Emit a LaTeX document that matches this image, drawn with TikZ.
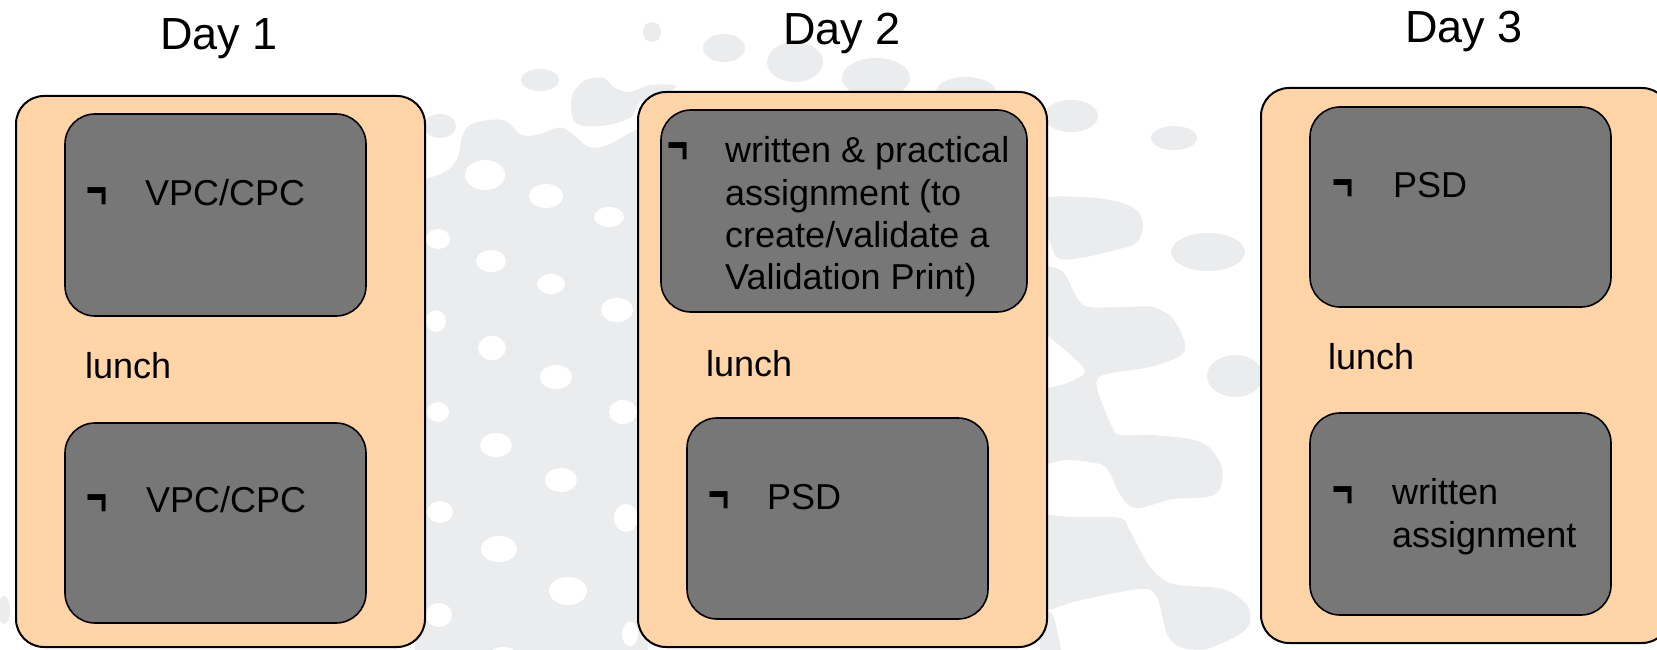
\documentclass[tikz,border=0pt]{standalone}
\usepackage{fontspec}
\setmainfont{Liberation Sans}
\definecolor{peach}{HTML}{FFD5A8}
\definecolor{boxgrey}{HTML}{777777}
\definecolor{bggrey}{HTML}{EBECEE}
\newcommand{\notmark}{\raisebox{-3pt}{\scalebox{1}[1.5]{\textbf{¬}}}}
\begin{document}
\begin{tikzpicture}[x=1pt,y=-1pt,
  outerbox/.style={draw=black, line width=2pt, fill=peach, rounded corners=28pt, inner sep=0pt},
  innerbox/.style={draw=black, line width=1.6pt, fill=boxgrey, rounded corners=30pt, inner sep=0pt},
  body/.style={font=\fontsize{36}{43}\selectfont, anchor=base west, inner sep=0pt, text=black},
  daytitle/.style={font=\fontsize{45}{54}\selectfont, anchor=base, inner sep=0pt, text=black},
  bg/.style={fill=bggrey},
  hole/.style={fill=white}]
\useasboundingbox (0,0) rectangle (1657,650);
\clip (0,0) rectangle (1657,650);
\fill[white] (0,0) rectangle (1657,650);

% ---- background pattern, gap between day 1 and day 2 ----
\fill[bg] plot[smooth, tension=0.6] coordinates {(415,182) (445,172) (458,157) (462,137) (472,124) (503,120) (522,135) (540,134) (563,128) (587,146) (605,146) (630,133) (648,124)} -- (648,655) -- (415,655) -- cycle;
\fill[bg] plot[smooth cycle, tension=0.6] coordinates {(575,122) (572,97) (584,81) (603,78) (615,88) (630,92) (650,85) (676,86) (660,96) (640,102) (630,118) (600,126)};
\fill[bg] (440,126) ellipse [x radius=16pt, y radius=12pt];
\fill[bg] (540,80) ellipse [x radius=19pt, y radius=11pt];
\fill[bg] (652,32) ellipse [x radius=9pt, y radius=10pt];
\fill[bg] (724,48) ellipse [x radius=21pt, y radius=14pt];
\fill[bg] (795,62) ellipse [x radius=28pt, y radius=20pt];
\fill[bg] (876,78) ellipse [x radius=34pt, y radius=20pt];
\fill[bg] (966,92) ellipse [x radius=30pt, y radius=15pt];
\foreach \cx/\cy/\rx/\ry in {485/175/20/15, 546/196/17/12, 609/217/15/10, 438/239/12/10,
  491/261/15/11, 551/284/14/10, 617/310/16/12, 436/321/10/11, 492/348/14/12,
  556/377/16/12, 623/412/14/12, 438/412/11/10, 496/445/16/12, 561/480/16/12,
  440/512/13/11, 626/518/12/14, 499/549/18/13, 568/591/19/14, 439/615/13/12,
  630/634/8/12, 503/655/14/8}
  \fill[hole] (\cx,\cy) ellipse [x radius=\rx pt, y radius=\ry pt];
\fill[bg] (4,610) ellipse [x radius=6pt, y radius=14pt];

% ---- background pattern, gap between day 2 and day 3 ----
\fill[bg] (1071,116) ellipse [x radius=27pt, y radius=16pt];
\fill[bg] (1174,138) ellipse [x radius=23pt, y radius=12pt];
\fill[bg] plot[smooth cycle, tension=0.6] coordinates {(1040,200) (1080,197) (1115,201) (1136,210) (1143,225) (1136,243) (1115,250) (1080,258) (1058,258) (1049,240) (1040,230)};
\fill[bg] (1208,252) ellipse [x radius=37pt, y radius=19pt];
\fill[bg] plot[smooth, tension=0.5] coordinates {(1040,265) (1063,272) (1083,305) (1120,307) (1153,307) (1173,319) (1185,344) (1180,356) (1150,367) (1103,375) (1097,388) (1112,427) (1120,435) (1150,435) (1190,439) (1210,448) (1222,468) (1220,489) (1207,497) (1173,499) (1140,508) (1127,504) (1117,489) (1110,473) (1100,464) (1067,460) (1040,466)} -- (1040,388) -- plot[smooth, tension=0.5] coordinates {(1048,388) (1067,383) (1083,375) (1083,367) (1065,350) (1048,336)} -- (1040,336) -- cycle;
\fill[bg] (1235,376) ellipse [x radius=28pt, y radius=21pt];
\fill[bg] plot[smooth, tension=0.5] coordinates {(1040,514) (1073,517) (1120,518) (1130,531) (1150,567) (1173,584) (1223,589) (1247,605) (1250,622) (1240,634) (1207,649) (1180,647) (1167,634) (1157,597) (1140,589) (1077,601) (1053,609)} -- (1040,610) -- cycle;
\fill[bg] plot[smooth, tension=0.5] coordinates {(1040,612) (1053,615) (1062,655)} -- (1040,655) -- cycle;

% ---- day titles ----
\node[daytitle] (t1) at (219,50) {Day 1};
\node[daytitle] (t2) at (842,45) {Day 2};
\node[daytitle] (t3) at (1464,43) {Day 3};

% ---- day boxes ----
\node[outerbox, minimum width=409pt, minimum height=551pt] (day1) at (220.5,371.5) {};
\node[outerbox, minimum width=409pt, minimum height=555pt] (day2) at (842.5,369.5) {};
\node[outerbox, minimum width=409pt, minimum height=555pt] (day3) at (1465.5,365.5) {};

\node[innerbox, minimum width=301pt, minimum height=202pt] (d1a) at (215.5,215) {};
\node[innerbox, minimum width=301pt, minimum height=200pt] (d1b) at (215.5,523) {};
\node[innerbox, minimum width=366pt, minimum height=202pt] (d2a) at (844,211) {};
\node[innerbox, minimum width=301pt, minimum height=201pt] (d2b) at (837.5,518.5) {};
\node[innerbox, minimum width=301pt, minimum height=200pt] (d3a) at (1460.5,207) {};
\node[innerbox, minimum width=301pt, minimum height=202pt] (d3b) at (1460.5,514) {};

% ---- texts, day 1 ----
\node[body] (d1am) at (86,205) {\notmark};
\node[body] (d1at) at (145,205) {VPC/CPC};
\node[body] (l1) at (85,378) {lunch};
\node[body] (d1bm) at (86,512) {\notmark};
\node[body] (d1bt) at (146,512) {VPC/CPC};

% ---- texts, day 2 ----
\node[body] (d2am) at (667,160) {\notmark};
\node[body] (d2a1) at (725,163) {written \& practical};
\node[body] (d2a2) at (725,205) {assignment (to};
\node[body] (d2a3) at (725,247) {create/validate a};
\node[body] (d2a4) at (725,289) {Validation Print)};
\node[body] (l2) at (706,376) {lunch};
\node[body] (d2bm) at (708,509) {\notmark};
\node[body] (d2bt) at (767,509) {PSD};

% ---- texts, day 3 ----
\node[body] (d3am) at (1332,197) {\notmark};
\node[body] (d3at) at (1393,197) {PSD};
\node[body] (l3) at (1328,369) {lunch};
\node[body] (d3bm) at (1332,504) {\notmark};
\node[body] (d3b1) at (1392,504) {written};
\node[body] (d3b2) at (1392,547) {assignment};
\end{tikzpicture}
\end{document}
